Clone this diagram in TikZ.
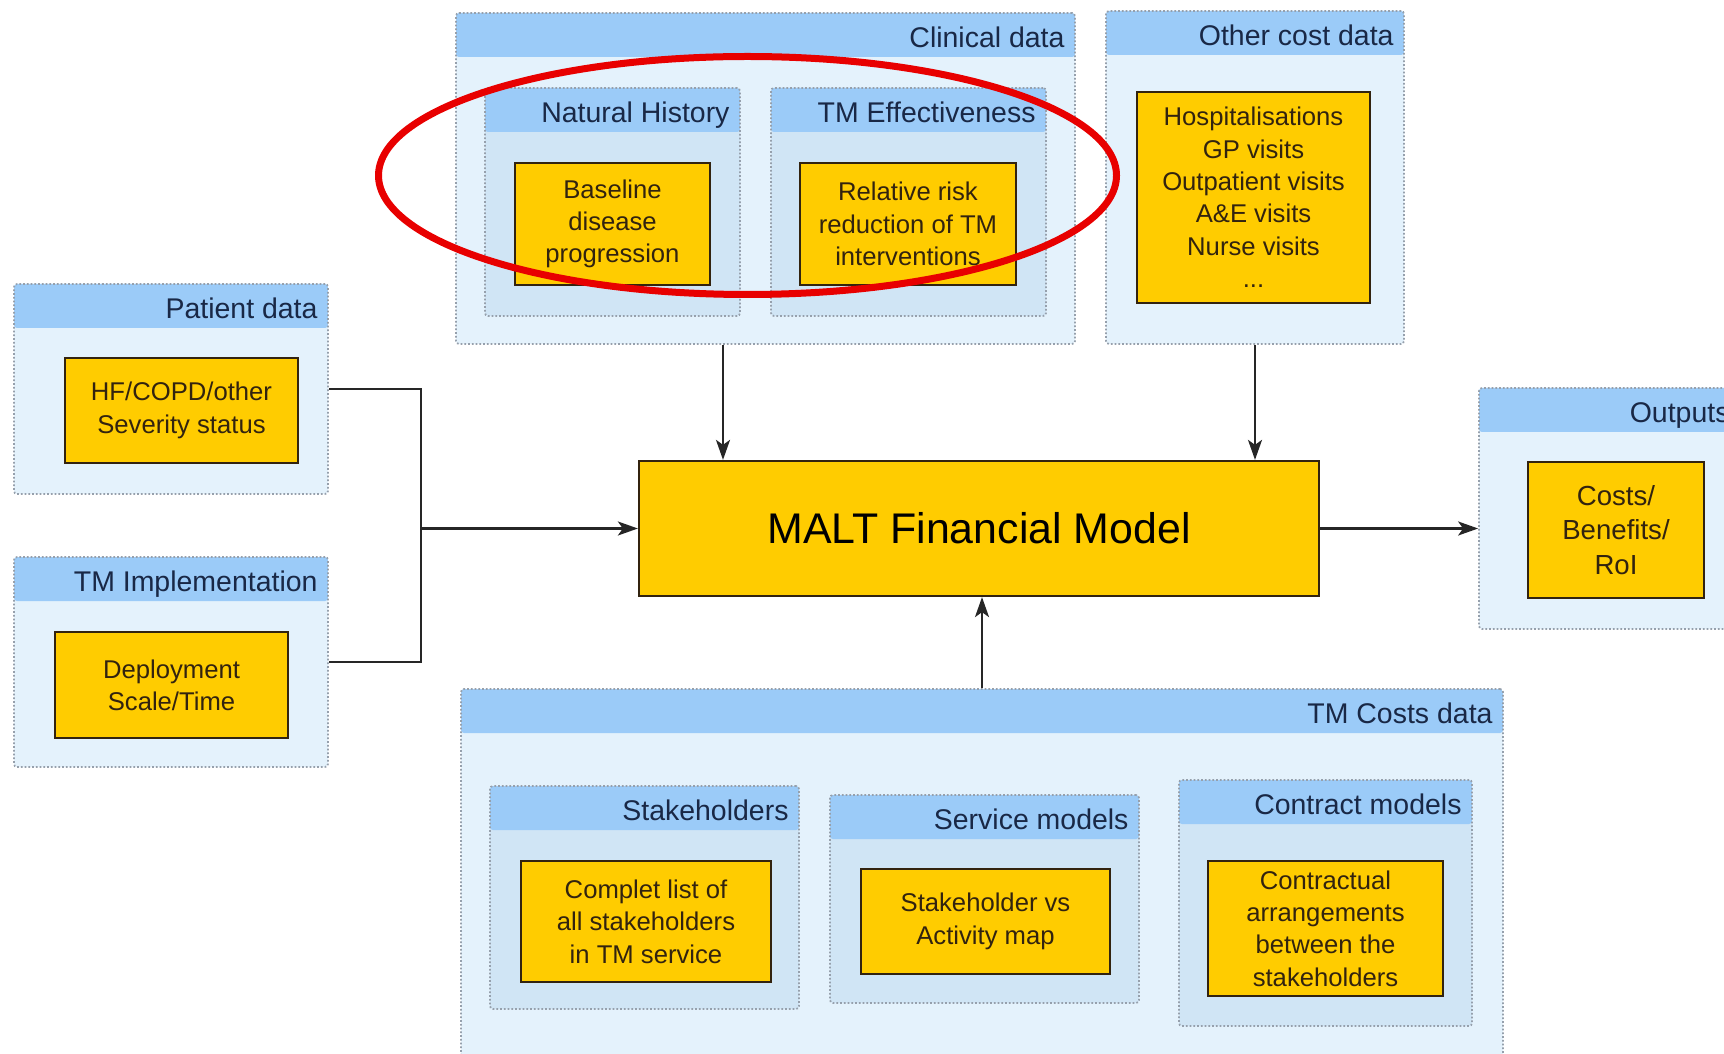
\documentclass[tikz,border=0pt]{standalone}
\usepackage{fontspec}
\setmainfont{Liberation Sans}
\usetikzlibrary{fit,arrows.meta}

\definecolor{bandblue}{RGB}{155,203,248}
\definecolor{groupfill}{RGB}{228,242,252}
\definecolor{subfill}{RGB}{208,229,245}
\definecolor{dotgray}{RGB}{150,160,172}
\definecolor{boxorange}{RGB}{255,204,0}
\definecolor{boxline}{RGB}{50,35,15}
\definecolor{titleblue}{RGB}{25,40,70}
\definecolor{ringred}{RGB}{232,0,0}

\begin{document}
\begin{tikzpicture}[x=0.2mm,y=-0.2mm,
  group/.style={draw=dotgray, line width=0.35mm, dash pattern=on 0.35mm off 0.4mm,
    fill=groupfill, inner sep=0pt, rounded corners=0.6mm,
    path picture={\fill[bandblue] (path picture bounding box.north west)
      rectangle ([yshift=-8.8mm]path picture bounding box.north east);}},
  subgroup/.style={group, fill=subfill},
  title/.style={anchor=base east, text=titleblue, inner sep=0pt,
    font=\fontsize{16.2}{19}\selectfont},
  item/.style={draw=boxline, line width=0.45mm, fill=boxorange, inner sep=0pt,
    align=center, text=boxline, font=\fontsize{14.6}{18.4}\selectfont},
  link/.style={line width=0.45mm, black!85},
  arrow/.style={link, -{Stealth[length=4mm,width=2.8mm,inset=1mm]}}]

\useasboundingbox (0,0) rectangle (1724,1054);
\clip (0,0) rectangle (1724,1054);

\node[group, fit={(456,13) (1075,344)}] (clinical) {};
\node[title] (clinicaltitle) at ([xshift=-2.2mm,yshift=-7mm]clinical.north east) {Clinical data};
\node[subgroup, fit={(485,88) (740,316)}] (history) {};
\node[title] (historytitle) at ([xshift=-2.2mm,yshift=-7mm]history.north east) {Natural History};
\node[item, minimum width=39mm, minimum height=24.4mm] (baseline) at (612.5,224) {Baseline\\disease\\progression};
\node[subgroup, fit={(771,88) (1046,316)}] (effect) {};
\node[title] (effecttitle) at ([xshift=-2.2mm,yshift=-7mm]effect.north east) {TM Effectiveness};
\node[item, minimum width=43.2mm, minimum height=24.4mm] (risk) at (908,224) {Relative risk\\reduction of TM\\interventions};

\node[group, fit={(1106,11) (1404,344)}] (othercost) {};
\node[title] (othercosttitle) at ([xshift=-2.2mm,yshift=-7mm]othercost.north east) {Other cost data};
\node[item, minimum width=46.6mm, minimum height=42.2mm] (visits) at (1253.5,197.5) {Hospitalisations\\GP visits\\Outpatient visits\\A\&E visits\\Nurse visits\\...};

\node[group, fit={(14,284) (328,494)}] (patient) {};
\node[title] (patienttitle) at ([xshift=-2.2mm,yshift=-7mm]patient.north east) {Patient data};
\node[item, minimum width=46.6mm, minimum height=21mm] (severity) at (181.5,410.5) {HF/COPD/other\\Severity status};

\node[group, fit={(14,557) (328,767)}] (impl) {};
\node[title] (impltitle) at ([xshift=-2.2mm,yshift=-7mm]impl.north east) {TM Implementation};
\node[item, minimum width=46.6mm, minimum height=21.2mm] (deploy) at (171.5,685) {Deployment\\Scale/Time};

\node[item, minimum width=136mm, minimum height=27mm, text=black, font=\fontsize{24.4}{29}\selectfont] (malt) at (979,528.5) {MALT Financial Model};

\node[group, fit={(1479,388) (1740,629)}] (outputs) {};
\node[title] (outputstitle) at ([xshift=-2.2mm,yshift=-7mm]outputs.north east) {Outputs};
\node[item, minimum width=35.2mm, minimum height=27.2mm, font=\fontsize{15.7}{19.7}\selectfont] (roi) at (1616,530) {Costs/\\Benefits/\\RoI};

\node[group, fit={(461,689) (1503,1070)}] (tmcosts) {};
\node[title] (tmcoststitle) at ([xshift=-2.2mm,yshift=-7mm]tmcosts.north east) {TM Costs data};
\node[subgroup, fit={(490,786) (799,1009)}] (stake) {};
\node[title] (staketitle) at ([xshift=-2.2mm,yshift=-7mm]stake.north east) {Stakeholders};
\node[item, minimum width=50mm, minimum height=24.2mm] (stakelist) at (646,921.5) {Complet list of\\all stakeholders\\in TM service};
\node[subgroup, fit={(830,795) (1139,1003)}] (service) {};
\node[title] (servicetitle) at ([xshift=-2.2mm,yshift=-7mm]service.north east) {Service models};
\node[item, minimum width=49.8mm, minimum height=21mm] (activity) at (985.5,921.5) {Stakeholder vs\\Activity map};
\node[subgroup, fit={(1179,780) (1472,1026)}] (contract) {};
\node[title] (contracttitle) at ([xshift=-2.2mm,yshift=-7mm]contract.north east) {Contract models};
\node[item, minimum width=47mm, minimum height=27mm] (arrange) at (1325.5,928.5) {Contractual\\arrangements\\between the\\stakeholders};

\coordinate (join) at (421,528.5);
\coordinate (clinicalout) at (723,0);

\draw[link] (patient.east) -| (join);
\draw[link] (impl.east) -| (join);
\draw[arrow] (join) -- (malt.west);
\draw[arrow] (clinical.south -| clinicalout) -- (malt.north -| clinicalout);
\draw[arrow] (othercost.south) -- (othercost.south |- malt.north);
\draw[arrow] (tmcosts.north) -- (tmcosts.north |- malt.south);
\draw[arrow] (malt.east) -- (malt.east -| outputs.west);

\draw[ringred, line width=1.4mm] (747.5,175.5) ellipse [x radius=369, y radius=119];
\end{tikzpicture}
\end{document}
